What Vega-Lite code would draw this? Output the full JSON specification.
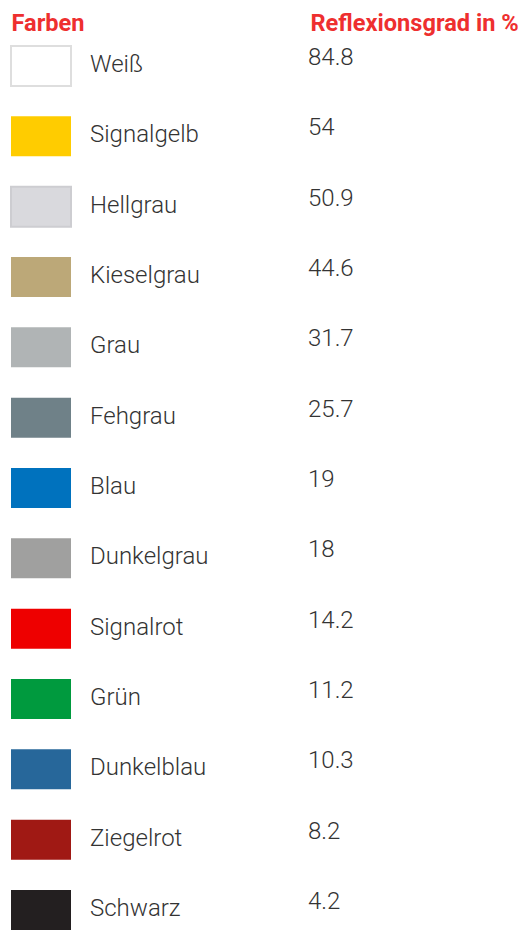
{
  "$schema": "https://vega.github.io/schema/vega-lite/v6.json",
  "autosize": {"type": "none"},
  "width": 299,
  "height": 844,
  "padding": {"left": 11, "top": 66, "right": 212, "bottom": 30},
  "background": "white",
  "config": {"view": {"stroke": null}},
  "data": {
    "values": [
      {"name": "Weiß", "hex": "#ffffff", "value": "84.8"},
      {"name": "Signalgelb", "hex": "#ffcc00", "value": "54"},
      {"name": "Hellgrau", "hex": "#d9d9dd", "value": "50.9"},
      {"name": "Kieselgrau", "hex": "#bca878", "value": "44.6"},
      {"name": "Grau", "hex": "#b0b4b5", "value": "31.7"},
      {"name": "Fehgrau", "hex": "#6f8188", "value": "25.7"},
      {"name": "Blau", "hex": "#0072be", "value": "19"},
      {"name": "Dunkelgrau", "hex": "#a0a09f", "value": "18"},
      {"name": "Signalrot", "hex": "#ee0000", "value": "14.2"},
      {"name": "Grün", "hex": "#009a3e", "value": "11.2"},
      {"name": "Dunkelblau", "hex": "#27679a", "value": "10.3"},
      {"name": "Ziegelrot", "hex": "#a01914", "value": "8.2"},
      {"name": "Schwarz", "hex": "#231f20", "value": "4.2"}
    ]
  },
  "encoding": {
    "y": {"field": "name", "type": "nominal", "sort": null, "scale": {"type": "point", "padding": 0}, "axis": null}
  },
  "layer": [
    {
      "mark": {"type": "point", "shape": "M-1,-0.6667H1V0.6667H-1Z", "filled": true, "opacity": 1, "strokeWidth": 2},
      "encoding": {
        "x": {"datum": "Farben", "type": "nominal", "scale": {"type": "point", "domain": ["Farben", "Reflexionsgrad in %"], "padding": 0},
          "axis": {"orient": "top", "title": null, "domain": false, "ticks": false, "grid": false, "labelAlign": "left", "labelBaseline": "middle", "labelPadding": 43, "labelLimit": 0, "labelOverlap": false, "labelFont": "Roboto", "labelFontWeight": "bold", "labelFontSize": 23.6, "labelColor": "#ee2f2f", "labelAngle": 0}},
        "xOffset": {"value": 30},
        "size": {"value": 3600},
        "fill": {"field": "hex", "type": "nominal", "scale": null, "legend": null},
        "stroke": {"condition": [{"test": "datum.name === 'Weiß'", "value": "#dedede"}, {"test": "datum.name === 'Hellgrau'", "value": "#cdcdd1"}], "value": null}
      }
    },
    {
      "mark": {"type": "text", "align": "left", "baseline": "middle", "font": "Roboto", "fontWeight": 300, "fontSize": 24, "color": "#333333", "dx": 79, "dy": -1},
      "encoding": {
        "x": {"datum": "Farben", "type": "nominal"},
        "text": {"field": "name"}
      }
    },
    {
      "mark": {"type": "text", "align": "left", "baseline": "middle", "font": "Roboto", "fontWeight": 300, "fontSize": 24, "color": "#333333", "dx": -2, "dy": -8},
      "encoding": {
        "x": {"datum": "Reflexionsgrad in %", "type": "nominal"},
        "text": {"field": "value"}
      }
    }
  ]
}
